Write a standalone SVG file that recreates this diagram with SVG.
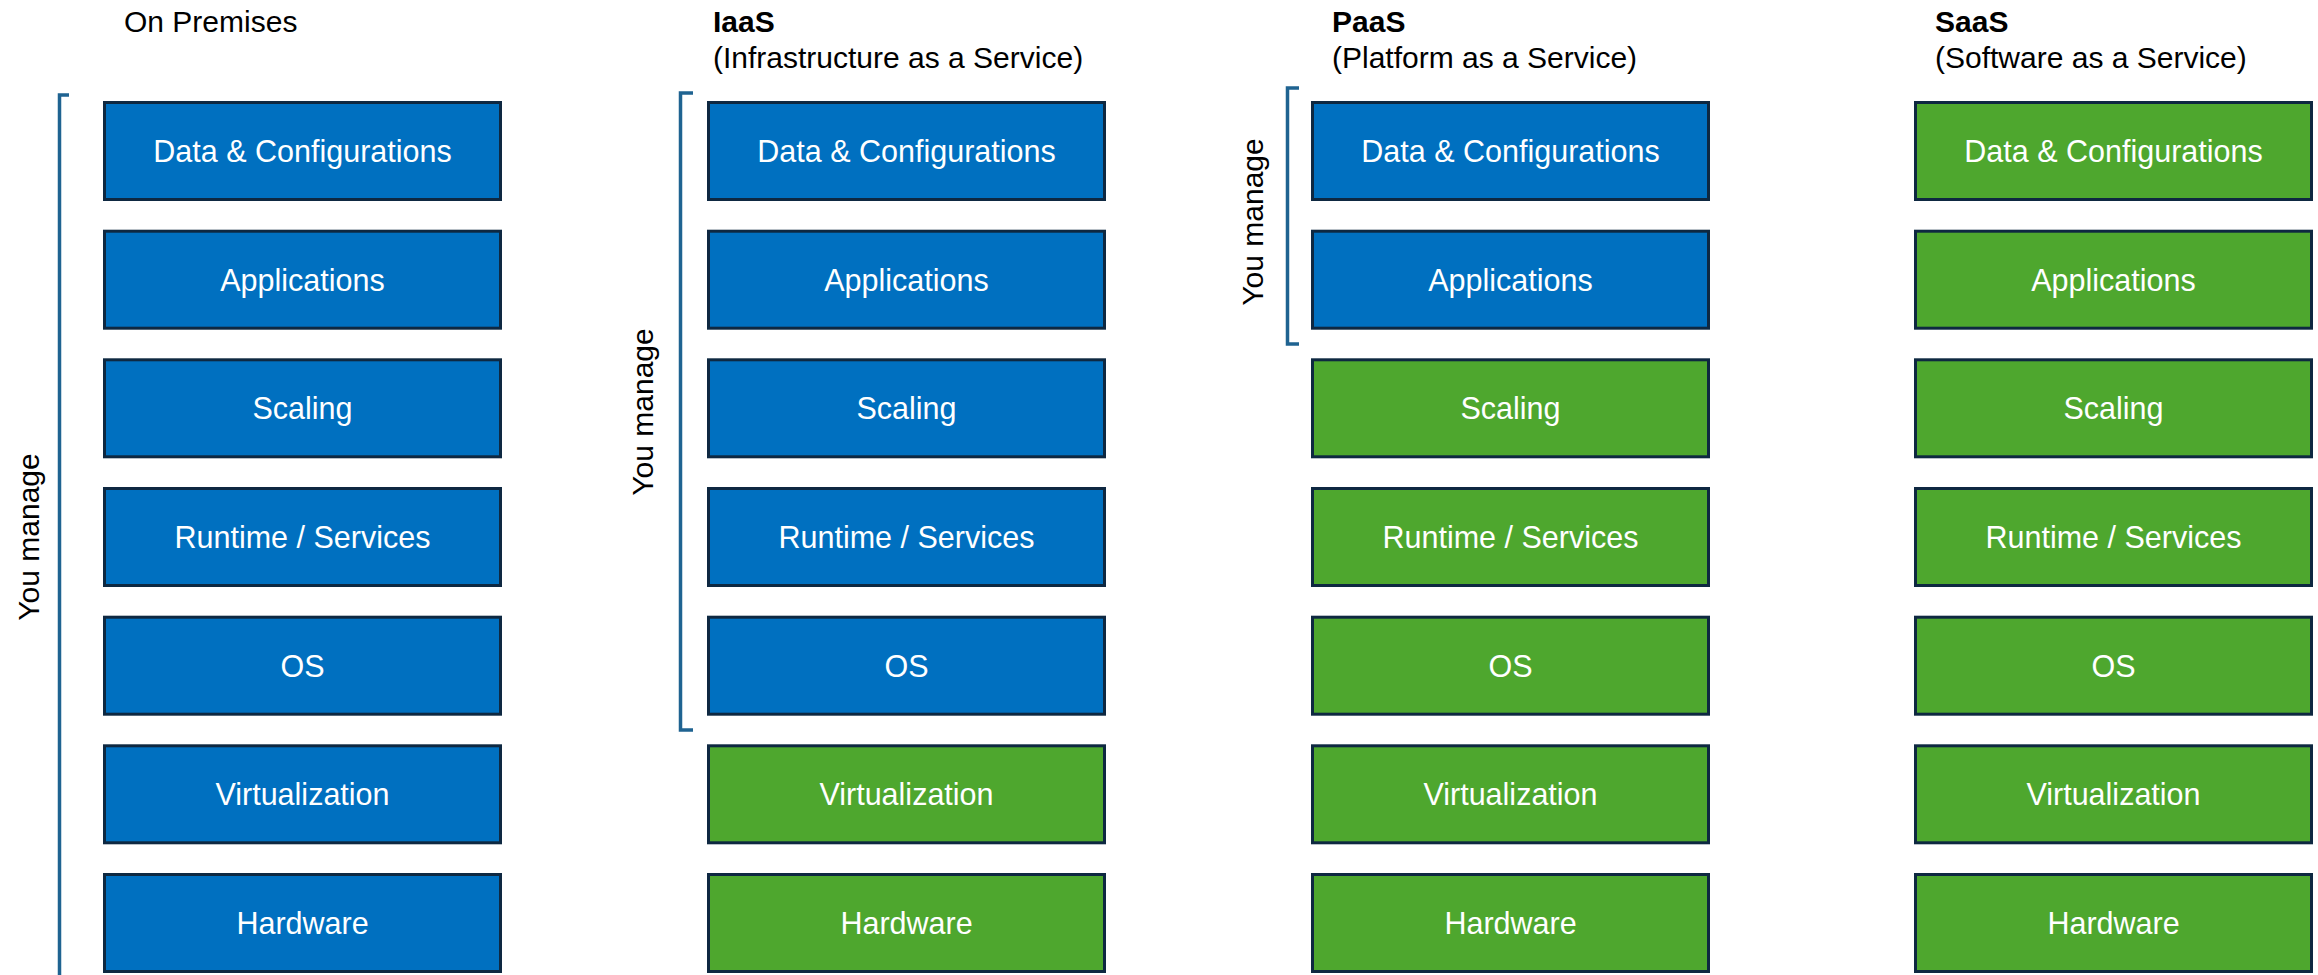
<svg xmlns="http://www.w3.org/2000/svg" width="2318" height="975" viewBox="0 0 2318 975">
<style>
text{font-family:"Liberation Sans",Arial,sans-serif;font-size:30px}
.hd{fill:#000}
.b{font-weight:bold}
.lbl{fill:#fff;text-anchor:middle;font-size:30.5px}
.blue{fill:#0070C0;stroke:#0E2841;stroke-width:3}
.green{fill:#4EA72E;stroke:#0E2841;stroke-width:3}
.br{fill:none;stroke:#1F6391;stroke-width:3.5}
.ym{fill:#000;text-anchor:middle}
</style>
<rect width="2318" height="975" fill="#fff"/>
<g id="headers">
<text class="hd" x="124" y="32">On Premises</text>
<text class="hd b" x="713" y="32">IaaS</text>
<text class="hd" x="713" y="68">(Infrastructure as a Service)</text>
<text class="hd b" x="1332" y="32">PaaS</text>
<text class="hd" x="1332" y="68">(Platform as a Service)</text>
<text class="hd b" x="1935" y="32">SaaS</text>
<text class="hd" x="1935" y="68">(Software as a Service)</text>
</g>
<g id="brackets">
<path class="br" d="M69,95 H59.5 V975"/>
<path class="br" d="M693,93 H680.5 V730 H693"/>
<path class="br" d="M1299,88 H1287.5 V344 H1299"/>
<text class="ym" transform="translate(39,537) rotate(-90)">You manage</text>
<text class="ym" transform="translate(653,412) rotate(-90)">You manage</text>
<text class="ym" transform="translate(1263,222) rotate(-90)">You manage</text>
</g>
<g id="onprem">
<g id="op-data"><rect class="blue" x="104.5" y="102.5" width="396" height="97"/><text class="lbl" x="302.5" y="162">Data &amp; Configurations</text></g>
<g id="op-apps"><rect class="blue" x="104.5" y="231.2" width="396" height="97"/><text class="lbl" x="302.5" y="290.7">Applications</text></g>
<g id="op-scaling"><rect class="blue" x="104.5" y="359.8" width="396" height="97"/><text class="lbl" x="302.5" y="419.3">Scaling</text></g>
<g id="op-runtime"><rect class="blue" x="104.5" y="488.5" width="396" height="97"/><text class="lbl" x="302.5" y="548">Runtime / Services</text></g>
<g id="op-os"><rect class="blue" x="104.5" y="617.2" width="396" height="97"/><text class="lbl" x="302.5" y="676.7">OS</text></g>
<g id="op-virt"><rect class="blue" x="104.5" y="745.8" width="396" height="97"/><text class="lbl" x="302.5" y="805.3">Virtualization</text></g>
<g id="op-hw"><rect class="blue" x="104.5" y="874.5" width="396" height="97"/><text class="lbl" x="302.5" y="934">Hardware</text></g>
</g>
<g id="iaas" transform="translate(604,0)">
<g id="iaas-data"><rect class="blue" x="104.5" y="102.5" width="396" height="97"/><text class="lbl" x="302.5" y="162">Data &amp; Configurations</text></g>
<g id="iaas-apps"><rect class="blue" x="104.5" y="231.2" width="396" height="97"/><text class="lbl" x="302.5" y="290.7">Applications</text></g>
<g id="iaas-scaling"><rect class="blue" x="104.5" y="359.8" width="396" height="97"/><text class="lbl" x="302.5" y="419.3">Scaling</text></g>
<g id="iaas-runtime"><rect class="blue" x="104.5" y="488.5" width="396" height="97"/><text class="lbl" x="302.5" y="548">Runtime / Services</text></g>
<g id="iaas-os"><rect class="blue" x="104.5" y="617.2" width="396" height="97"/><text class="lbl" x="302.5" y="676.7">OS</text></g>
<g id="iaas-virt"><rect class="green" x="104.5" y="745.8" width="396" height="97"/><text class="lbl" x="302.5" y="805.3">Virtualization</text></g>
<g id="iaas-hw"><rect class="green" x="104.5" y="874.5" width="396" height="97"/><text class="lbl" x="302.5" y="934">Hardware</text></g>
</g>
<g id="paas" transform="translate(1208,0)">
<g id="paas-data"><rect class="blue" x="104.5" y="102.5" width="396" height="97"/><text class="lbl" x="302.5" y="162">Data &amp; Configurations</text></g>
<g id="paas-apps"><rect class="blue" x="104.5" y="231.2" width="396" height="97"/><text class="lbl" x="302.5" y="290.7">Applications</text></g>
<g id="paas-scaling"><rect class="green" x="104.5" y="359.8" width="396" height="97"/><text class="lbl" x="302.5" y="419.3">Scaling</text></g>
<g id="paas-runtime"><rect class="green" x="104.5" y="488.5" width="396" height="97"/><text class="lbl" x="302.5" y="548">Runtime / Services</text></g>
<g id="paas-os"><rect class="green" x="104.5" y="617.2" width="396" height="97"/><text class="lbl" x="302.5" y="676.7">OS</text></g>
<g id="paas-virt"><rect class="green" x="104.5" y="745.8" width="396" height="97"/><text class="lbl" x="302.5" y="805.3">Virtualization</text></g>
<g id="paas-hw"><rect class="green" x="104.5" y="874.5" width="396" height="97"/><text class="lbl" x="302.5" y="934">Hardware</text></g>
</g>
<g id="saas" transform="translate(1811,0)">
<g id="saas-data"><rect class="green" x="104.5" y="102.5" width="396" height="97"/><text class="lbl" x="302.5" y="162">Data &amp; Configurations</text></g>
<g id="saas-apps"><rect class="green" x="104.5" y="231.2" width="396" height="97"/><text class="lbl" x="302.5" y="290.7">Applications</text></g>
<g id="saas-scaling"><rect class="green" x="104.5" y="359.8" width="396" height="97"/><text class="lbl" x="302.5" y="419.3">Scaling</text></g>
<g id="saas-runtime"><rect class="green" x="104.5" y="488.5" width="396" height="97"/><text class="lbl" x="302.5" y="548">Runtime / Services</text></g>
<g id="saas-os"><rect class="green" x="104.5" y="617.2" width="396" height="97"/><text class="lbl" x="302.5" y="676.7">OS</text></g>
<g id="saas-virt"><rect class="green" x="104.5" y="745.8" width="396" height="97"/><text class="lbl" x="302.5" y="805.3">Virtualization</text></g>
<g id="saas-hw"><rect class="green" x="104.5" y="874.5" width="396" height="97"/><text class="lbl" x="302.5" y="934">Hardware</text></g>
</g>
</svg>
